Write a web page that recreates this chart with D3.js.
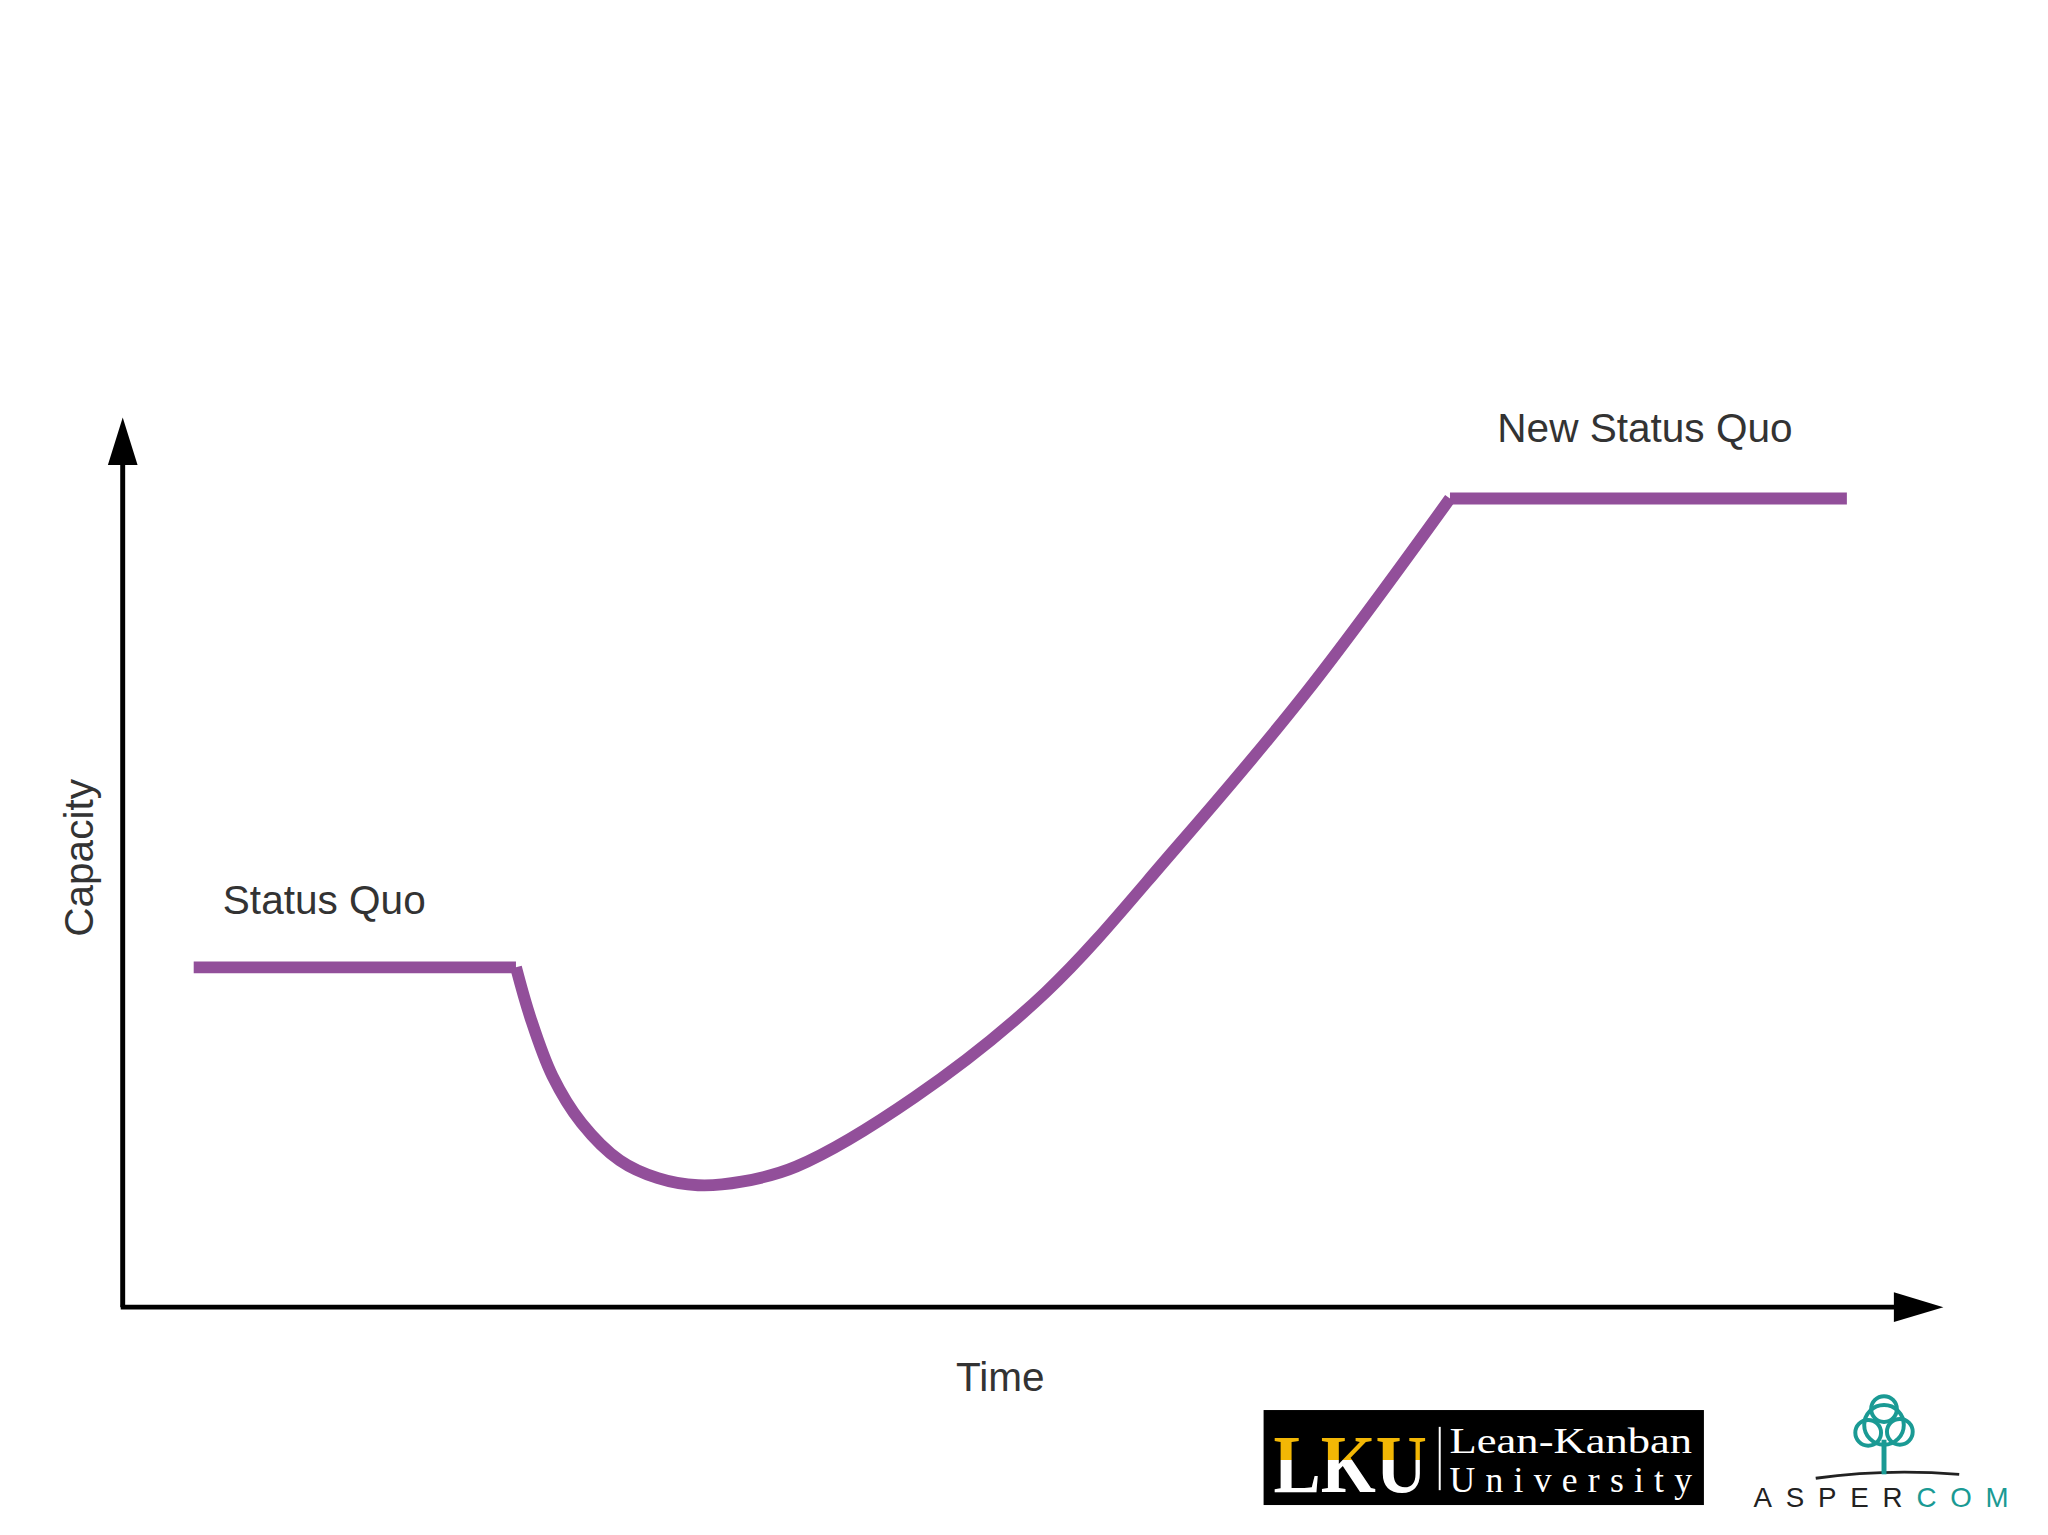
<!DOCTYPE html>
<html><head><meta charset="utf-8">
<script src="https://cdn.jsdelivr.net/npm/d3@7"></script>
<style>body{margin:0;background:#fff}</style></head>
<body><svg id="c" width="2048" height="1535"></svg>
<script>
const flatBefore = [[3.9,38.2],[21.6,38.2]];
const dip = [[21.6,38.2],[22.4,32.5],[23.6,26.0],[25.2,20.7],[27.3,16.5],[29.4,14.5],[31.6,13.7],[34.0,14.1],[37.0,15.8],[43.5,23.6],[50.7,35.4],[57.8,51.5],[65.0,69.1],[72.9,90.9]];
const flatAfter = [[72.9,90.9],[94.7,90.9]];
const labels = [{t:"Status Quo",x:5.5,y:44.2},{t:"New Status Quo",x:75.5,y:97.3}];

const root = d3.select("#c").append("g").attr("transform","scale(0.9895)");
const svg = root;
const x = d3.scaleLinear().domain([0,100]).range([124,1964]);
const y = d3.scaleLinear().domain([0,100]).range([1321,422]);
const col = "#924f9a";

svg.append("line").attr("x1",124).attr("y1",1321).attr("x2",124).attr("y2",460).attr("stroke","#000").attr("stroke-width",5);
svg.append("path").attr("d","M124,422 L109,470 L139,470 Z").attr("fill","#000");
svg.append("line").attr("x1",122).attr("y1",1321).attr("x2",1920).attr("y2",1321).attr("stroke","#000").attr("stroke-width",5);
svg.append("path").attr("d","M1964,1321 L1914,1306 L1914,1336 Z").attr("fill","#000");

const lin = d3.line().x(d=>x(d[0])).y(d=>y(d[1]));
const cur = d3.line().x(d=>x(d[0])).y(d=>y(d[1])).curve(d3.curveCatmullRom.alpha(0.5));
[ [flatBefore,lin],[dip,cur],[flatAfter,lin] ].forEach(([d,g])=>{
  svg.append("path").attr("d",g(d)).attr("fill","none").attr("stroke",col).attr("stroke-width",12).attr("stroke-linejoin","round");
});

const F = "Liberation Sans, Arial, sans-serif";
labels.forEach(l=>svg.append("text").attr("x",x(l.x)).attr("y",y(l.y)).text(l.t)
  .attr("font-family",F).attr("font-size",41).attr("fill","#333"));
svg.append("text").attr("x",1011).attr("y",1406).attr("text-anchor","middle").text("Time")
  .attr("font-family",F).attr("font-size",41).attr("fill","#333");
svg.append("text").attr("transform","translate(94,867) rotate(-90)").attr("text-anchor","middle").text("Capacity")
  .attr("font-family",F).attr("font-size",41).attr("fill","#333");

const defs = d3.select("#c").append("defs");
const gr = defs.append("linearGradient").attr("id","lku").attr("x1",0).attr("x2",0).attr("y1",0).attr("y2",1);
gr.append("stop").attr("offset","0.45").attr("stop-color","#f2b705");
gr.append("stop").attr("offset","0.45").attr("stop-color","#fff");
const g = svg.append("g");
g.append("rect").attr("x",1277).attr("y",1425).attr("width",445).attr("height",96).attr("fill","#000");
g.append("text").attr("x",1287).attr("y",1508).text("LKU").attr("font-family","Liberation Serif, serif").attr("font-weight","bold")
  .attr("font-size",84).attr("textLength",155).attr("lengthAdjust","spacingAndGlyphs").attr("fill","url(#lku)");
g.append("line").attr("x1",1455).attr("x2",1455).attr("y1",1442).attr("y2",1506).attr("stroke","#fff").attr("stroke-width",2);
g.append("text").attr("x",1465).attr("y",1468).text("Lean-Kanban").attr("font-family","Liberation Serif, serif").attr("font-size",36)
  .attr("textLength",245).attr("lengthAdjust","spacingAndGlyphs").attr("fill","#fff");
g.append("text").attr("x",1465).attr("y",1508).text("University").attr("font-family","Liberation Serif, serif").attr("font-size",36)
  .attr("textLength",245).attr("fill","#fff");

const teal = "#1a9a94";
const a = svg.append("g");
a.append("path").attr("d","M1835,1494 Q1905,1484 1980,1490").attr("stroke","#222").attr("stroke-width",3).attr("fill","none");
a.append("line").attr("x1",1904).attr("x2",1904).attr("y1",1455).attr("y2",1490).attr("stroke",teal).attr("stroke-width",5);
[[1904,1440,20],[1888,1448,13],[1920,1447,13],[1904,1424,13]].forEach(c=>
  a.append("circle").attr("cx",c[0]).attr("cy",c[1]).attr("r",c[2]).attr("fill","none").attr("stroke",teal).attr("stroke-width",4));
const t = a.append("text").attr("x",1772).attr("y",1523).attr("font-family","Liberation Sans, Arial, sans-serif").attr("font-size",28)
  .attr("textLength",258);
t.append("tspan").text("ASPER").attr("fill","#222");
t.append("tspan").text("COM").attr("fill",teal);
</script></body></html>
